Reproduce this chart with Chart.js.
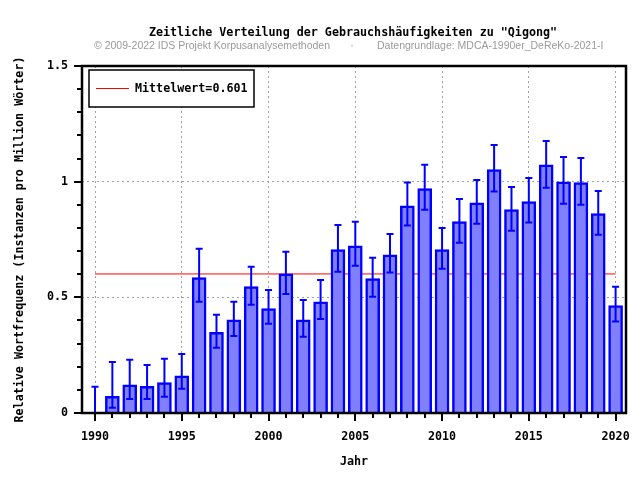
<!DOCTYPE html>
<html>
<head>
<meta charset="utf-8">
<script src="https://cdn.jsdelivr.net/npm/chart.js@4/dist/chart.umd.min.js"></script>
<style>
  body { margin: 0; background: #fff; }
</style>
</head>
<body>
<canvas id="chart" width="640" height="480"></canvas>
<script>
// Daten
const years = [1990, 1991, 1992, 1993, 1994, 1995, 1996, 1997, 1998, 1999, 2000,
               2001, 2002, 2003, 2004, 2005, 2006, 2007, 2008, 2009, 2010,
               2011, 2012, 2013, 2014, 2015, 2016, 2017, 2018, 2019, 2020];
const values = [0, 0.072, 0.122, 0.115, 0.131, 0.161, 0.585, 0.349, 0.403, 0.546, 0.451,
                0.602, 0.403, 0.481, 0.706, 0.723, 0.581, 0.684, 0.896, 0.970, 0.706,
                0.827, 0.909, 1.052, 0.879, 0.914, 1.073, 0.999, 0.996, 0.862, 0.464];
const errHigh = [0.114, 0.220, 0.230, 0.207, 0.235, 0.255, 0.710, 0.425, 0.481, 0.632, 0.532,
                 0.697, 0.489, 0.575, 0.813, 0.827, 0.671, 0.774, 0.996, 1.073, 0.800,
                 0.925, 1.007, 1.159, 0.977, 1.016, 1.176, 1.107, 1.102, 0.960, 0.546];
const errLow = [0, 0.023, 0.060, 0.060, 0.070, 0.105, 0.481, 0.282, 0.333, 0.468, 0.386,
                0.514, 0.330, 0.406, 0.611, 0.637, 0.503, 0.607, 0.810, 0.879, 0.624,
                0.736, 0.818, 0.957, 0.788, 0.823, 0.974, 0.905, 0.900, 0.771, 0.395];
const meanValue = 0.601;
const xTicks = years;
const yTicks = [0, 0.1, 0.2, 0.3, 0.4, 0.5, 0.6, 0.7, 0.8, 0.9, 1, 1.1, 1.2, 1.3, 1.4, 1.5];
const yLabels = [0, 0.5, 1, 1.5];

const titleText = 'Zeitliche Verteilung der Gebrauchshäufigkeiten zu "Qigong"';
const subLeft = '© 2009-2022 IDS Projekt Korpusanalysemethoden';
const subRight = 'Datengrundlage: MDCA-1990er_DeReKo-2021-I';

const mono = '"DejaVu Sans Mono", monospace';
const fs = 11.7;

const isLabelY = v => yLabels.some(l => Math.abs(l - v) < 1e-6);
const isMajorX = v => v % 5 === 0;

// Titel, Fehlerbalken, Legende, Rahmen, Striche
const decor = {
    id: 'decor',
    afterDatasetsDraw(chart) {
        const ctx = chart.ctx;
        const x = chart.scales.x, y = chart.scales.y;
        const a = chart.chartArea;

        // Fehlerbalken
        ctx.save();
        ctx.strokeStyle = '#0000ff';
        ctx.lineWidth = 2;
        years.forEach((yr, i) => {
            const px = x.getPixelForValue(yr);
            const hi = y.getPixelForValue(errHigh[i]);
            const lo = y.getPixelForValue(errLow[i]);
            ctx.beginPath();
            ctx.moveTo(px, hi); ctx.lineTo(px, lo);
            ctx.moveTo(px - 3.5, hi); ctx.lineTo(px + 3.5, hi);
            if (errLow[i] > 0) { ctx.moveTo(px - 3.5, lo); ctx.lineTo(px + 3.5, lo); }
            ctx.stroke();
        });
        ctx.restore();

        // Legende
        const ds = chart.data.datasets.find(d => d.type === 'line');
        ctx.save();
        ctx.fillStyle = '#fff';
        ctx.fillRect(a.left + 7, a.top + 4, 165, 37);
        ctx.strokeStyle = '#000';
        ctx.lineWidth = 1.5;
        ctx.strokeRect(a.left + 7, a.top + 4, 165, 37);
        ctx.strokeStyle = ds.borderColor;
        ctx.lineWidth = 1;
        ctx.beginPath();
        ctx.moveTo(a.left + 14, a.top + 22.5);
        ctx.lineTo(a.left + 47, a.top + 22.5);
        ctx.stroke();
        ctx.fillStyle = '#000';
        ctx.font = 'bold ' + fs + 'px ' + mono;
        ctx.textBaseline = 'middle';
        ctx.fillText(ds.label, a.left + 53, a.top + 23);
        ctx.restore();
    },
    afterDraw(chart) {
        const ctx = chart.ctx;
        const x = chart.scales.x, y = chart.scales.y;
        const a = chart.chartArea;
        const cx = (a.left + a.right) / 2;

        ctx.save();
        // Rahmen
        ctx.strokeStyle = '#000';
        ctx.lineWidth = 2.5;
        ctx.strokeRect(a.left, a.top, a.right - a.left, a.bottom - a.top);

        // Striche
        ctx.lineWidth = 2;
        ctx.beginPath();
        xTicks.forEach(v => {
            const px = Math.round(x.getPixelForValue(v));
            ctx.moveTo(px, a.bottom);
            ctx.lineTo(px, a.bottom + (isMajorX(v) ? 8 : 5));
        });
        yTicks.forEach(v => {
            const py = Math.round(y.getPixelForValue(v));
            ctx.moveTo(a.left, py);
            ctx.lineTo(a.left - (isLabelY(v) ? 8 : 5), py);
        });
        ctx.stroke();

        // Titel
        ctx.fillStyle = '#000';
        ctx.font = 'bold ' + fs + 'px ' + mono;
        ctx.textAlign = 'center';
        ctx.textBaseline = 'middle';
        ctx.fillText(titleText, cx - 1, 33);

        ctx.fillStyle = '#9a9a9a';
        ctx.font = '10.5px "Liberation Sans", Arial, sans-serif';
        ctx.textAlign = 'right';
        ctx.fillText(subLeft, cx - 24, 46);
        ctx.textAlign = 'center';
        ctx.fillText('·', cx - 2, 46);
        ctx.textAlign = 'left';
        ctx.fillText(subRight, cx + 23, 46);
        ctx.restore();
    }
};

new Chart(document.getElementById('chart').getContext('2d'), {
    type: 'bar',
    data: {
        datasets: [
            {
                type: 'bar',
                label: 'Relative Wortfrequenz',
                data: years.map((yr, i) => ({ x: yr, y: values[i] })),
                backgroundColor: '#8080ff',
                borderColor: '#0000ff',
                borderWidth: 2.5,
                barThickness: 14,
                order: 1
            },
            {
                type: 'line',
                label: 'Mittelwert=' + meanValue,
                data: [{ x: years[0], y: meanValue }, { x: years[years.length - 1], y: meanValue }],
                borderColor: '#ff0000',
                borderWidth: 1,
                pointRadius: 0,
                order: 2
            }
        ]
    },
    options: {
        responsive: false,
        animation: false,
        layout: { padding: { top: 66, right: 14, bottom: 0, left: 0 } },
        plugins: {
            legend: { display: false },
            tooltip: { enabled: false },
            title: { display: false }
        },
        scales: {
            x: {
                type: 'linear',
                min: 1989.25,
                max: 2020.6,
                offset: false,
                afterBuildTicks: s => { s.ticks = xTicks.map(v => ({ value: v })); },
                afterFit: s => { s.height = 67; s.paddingLeft = 0; s.paddingRight = 0; },
                border: { display: false, dash: [2, 3] },
                grid: {
                    offset: false,
                    drawTicks: false,
                    color: c => (c.tick && isMajorX(c.tick.value)) ? '#a0a0a0' : 'rgba(0,0,0,0)',
                    lineWidth: 1
                },
                ticks: {
                    autoSkip: false,
                    maxRotation: 0,
                    padding: 17,
                    color: '#000',
                    font: { family: mono, size: fs, weight: 'bold' },
                    callback: v => isMajorX(v) ? String(v) : ''
                },
                title: {
                    display: true,
                    text: 'Jahr',
                    color: '#000',
                    font: { family: mono, size: fs, weight: 'bold' },
                    padding: { top: 0, bottom: 11 }
                }
            },
            y: {
                min: 0,
                max: 1.5,
                afterBuildTicks: s => { s.ticks = yTicks.map(v => ({ value: v })); },
                afterFit: s => { s.width = 82; },
                border: { display: false, dash: [2, 3] },
                grid: {
                    drawTicks: false,
                    color: c => (c.tick && isLabelY(c.tick.value) && c.tick.value > 0 && c.tick.value < 1.5) ? '#a0a0a0' : 'rgba(0,0,0,0)',
                    lineWidth: 1
                },
                ticks: {
                    autoSkip: false,
                    padding: 14,
                    color: '#000',
                    font: { family: mono, size: fs, weight: 'bold' },
                    callback: v => isLabelY(v) ? String(Math.round(v * 10) / 10) : ''
                },
                title: {
                    display: true,
                    text: 'Relative Wortfrequenz (Instanzen pro Million Wörter)',
                    color: '#000',
                    font: { family: mono, size: fs, weight: 'bold' },
                    padding: { top: 13, bottom: 0 }
                }
            }
        }
    },
    plugins: [decor]
});
</script>
</body>
</html>
